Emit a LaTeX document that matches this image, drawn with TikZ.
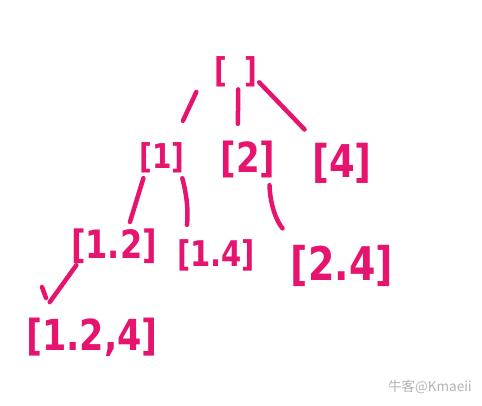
\documentclass[tikz,border=0pt]{standalone}
\usepackage{fontspec}
\setmainfont{DejaVu Sans}
\newfontfamily\cjkfont{Noto Sans CJK SC}
\usetikzlibrary{positioning}
\definecolor{pen}{RGB}{230,20,110}
\newcommand\tallset[1]{\scalebox{1}[1.22]{#1}}
\tikzset{
  hand/.style={font=\fontsize{#1}{#1}\selectfont\bfseries},
  stroke/.style={draw=pen, line width=4.5pt, line cap=round}
}

\begin{document}
\begin{tikzpicture}[x=1pt, y=-1pt]
   \useasboundingbox (0,0) rectangle (482,406);
   \begin{scope}[every node/.style={inner sep=0pt, text=pen}]
    \node (root) [hand=28, minimum width=46pt, minimum height=30pt] at (236,72) {\tallset{[\hspace{0.6em}]}};
    \node (n1) [hand=28, minimum width=45pt, minimum height=28pt] at (162,158) {\tallset{[1]}};
    \node (n2) [hand=34, minimum width=57pt, minimum height=38pt] at (248,159) {\tallset{[2]}};
    \node (n4) [hand=37, minimum width=60pt, minimum height=45pt] at (342,163) {\tallset{[4]}};
    \node (n12) [hand=32, minimum width=85pt, minimum height=38pt] at (114,246) {\tallset{[1.2]}};
    \node (n14) [hand=29, minimum width=78pt, minimum height=40pt] at (216,255) {\tallset{[1.4]}};
    \node (n24) [hand=38, minimum width=101pt, minimum height=48pt] at (342,266) {\tallset{[2.4]}};
    \node (n124) [hand=35, minimum width=133pt, minimum height=45pt] at (92,337) {\tallset{[1.2,4]}};
   \end{scope}
   \coordinate (tick) at (42,287);
   \begin{scope}[every edge/.style={stroke}]
    \draw (root.north west) edge[shorten <=39pt, shorten >=24pt] (n1.55);
    \draw (root.-82) edge[shorten <=2pt, shorten >=16pt] (n2.118);
    \draw (root.-24) edge[shorten >=15pt] (n4.140);
    \draw (n1.-138) edge[shorten <=5pt, shorten >=5pt] (n12.53);
    \draw (n1.-39) edge[bend left=10, shorten <=5pt, shorten >=10pt] (n14.146);
    \draw (n2.-42) edge[bend right=20, shorten <=7pt, shorten >=18pt] (n24.153);
    \draw (n12.-153) edge[shorten >=15pt] (n124.156);
    \draw[stroke] (tick) -- ++(4,11);
   \end{scope}
   \node (mark) [anchor=west, inner sep=0pt, text=black!30, font=\cjkfont\fontsize{13.5}{14}\selectfont] at (388,387) {牛客@Kmaeii};
\end{tikzpicture}
\end{document}
